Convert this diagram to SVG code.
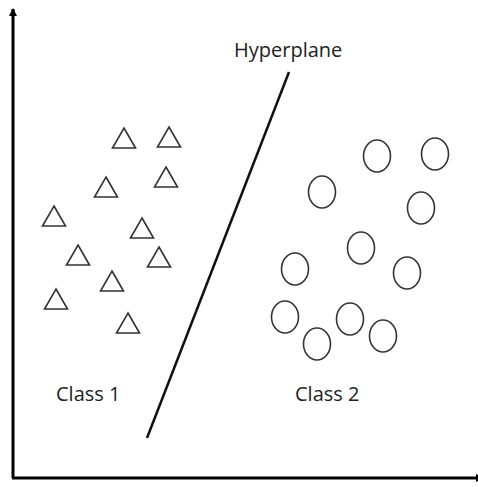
<svg xmlns="http://www.w3.org/2000/svg" xmlns:xlink="http://www.w3.org/1999/xlink" width="478" height="487" viewBox="0 0 478 487">
<style>
.axis{stroke:#000;stroke-width:3;fill:none}
.hyper{stroke:#111;stroke-width:2.5;fill:none}
.tri{fill:#fff;stroke:#333;stroke-width:1.6;stroke-linejoin:miter}
.cir{fill:#fff;stroke:#333;stroke-width:1.6}
.lbl{font-family:"Open Sans","Liberation Sans",sans-serif;font-size:20px;fill:#222}
</style>
<defs>
<marker id="arr" markerUnits="userSpaceOnUse" markerWidth="8" markerHeight="8" viewBox="0 0 8 8" refX="7" refY="4" orient="auto">
<path d="M0,0 L8,4 L0,8 z" fill="#000"/>
</marker>
<path id="triShape" d="M0,0 L11.5,20 L-11.5,20 Z"/>
</defs>
<rect width="478" height="487" fill="#fff"/>
<g id="connectors">
<line id="y-axis" class="axis" x1="13" y1="478" x2="13" y2="9" marker-end="url(#arr)"/>
<line id="x-axis" class="axis" x1="12" y1="478" x2="483" y2="478" marker-end="url(#arr)"/>
<line id="hyperplane-line" class="hyper" x1="289" y1="72" x2="147" y2="438"/>
</g>
<g id="class1-points">
<g id="t1"><use xlink:href="#triShape" class="tri" x="124" y="128"/></g>
<g id="t2"><use xlink:href="#triShape" class="tri" x="169" y="127"/></g>
<g id="t3"><use xlink:href="#triShape" class="tri" x="106" y="177"/></g>
<g id="t4"><use xlink:href="#triShape" class="tri" x="166" y="167"/></g>
<g id="t5"><use xlink:href="#triShape" class="tri" x="54" y="206"/></g>
<g id="t6"><use xlink:href="#triShape" class="tri" x="142" y="218"/></g>
<g id="t7"><use xlink:href="#triShape" class="tri" x="78" y="245"/></g>
<g id="t8"><use xlink:href="#triShape" class="tri" x="159" y="247"/></g>
<g id="t9"><use xlink:href="#triShape" class="tri" x="112" y="271"/></g>
<g id="t10"><use xlink:href="#triShape" class="tri" x="56" y="289"/></g>
<g id="t11"><use xlink:href="#triShape" class="tri" x="128" y="313"/></g>
</g>
<g id="class2-points">
<g id="c1"><ellipse class="cir" cx="377" cy="156" rx="13.5" ry="16"/></g>
<g id="c2"><ellipse class="cir" cx="435" cy="154" rx="13.5" ry="16"/></g>
<g id="c3"><ellipse class="cir" cx="322" cy="192" rx="13.5" ry="16"/></g>
<g id="c4"><ellipse class="cir" cx="421" cy="208" rx="13.5" ry="16"/></g>
<g id="c5"><ellipse class="cir" cx="361" cy="248" rx="13.5" ry="16"/></g>
<g id="c6"><ellipse class="cir" cx="295" cy="269" rx="13.5" ry="16"/></g>
<g id="c7"><ellipse class="cir" cx="407" cy="273" rx="13.5" ry="16"/></g>
<g id="c8"><ellipse class="cir" cx="285" cy="317" rx="13.5" ry="16"/></g>
<g id="c9"><ellipse class="cir" cx="350" cy="319" rx="13.5" ry="16"/></g>
<g id="c10"><ellipse class="cir" cx="317" cy="344" rx="13.5" ry="16"/></g>
<g id="c11"><ellipse class="cir" cx="383" cy="336" rx="13.5" ry="16"/></g>
</g>
<g id="labels">
<g id="hyperplane-label"><text class="lbl" x="234" y="57">Hyperplane</text></g>
<g id="class1-label"><text class="lbl" x="56" y="401">Class 1</text></g>
<g id="class2-label"><text class="lbl" x="295" y="401">Class 2</text></g>
</g>
</svg>
